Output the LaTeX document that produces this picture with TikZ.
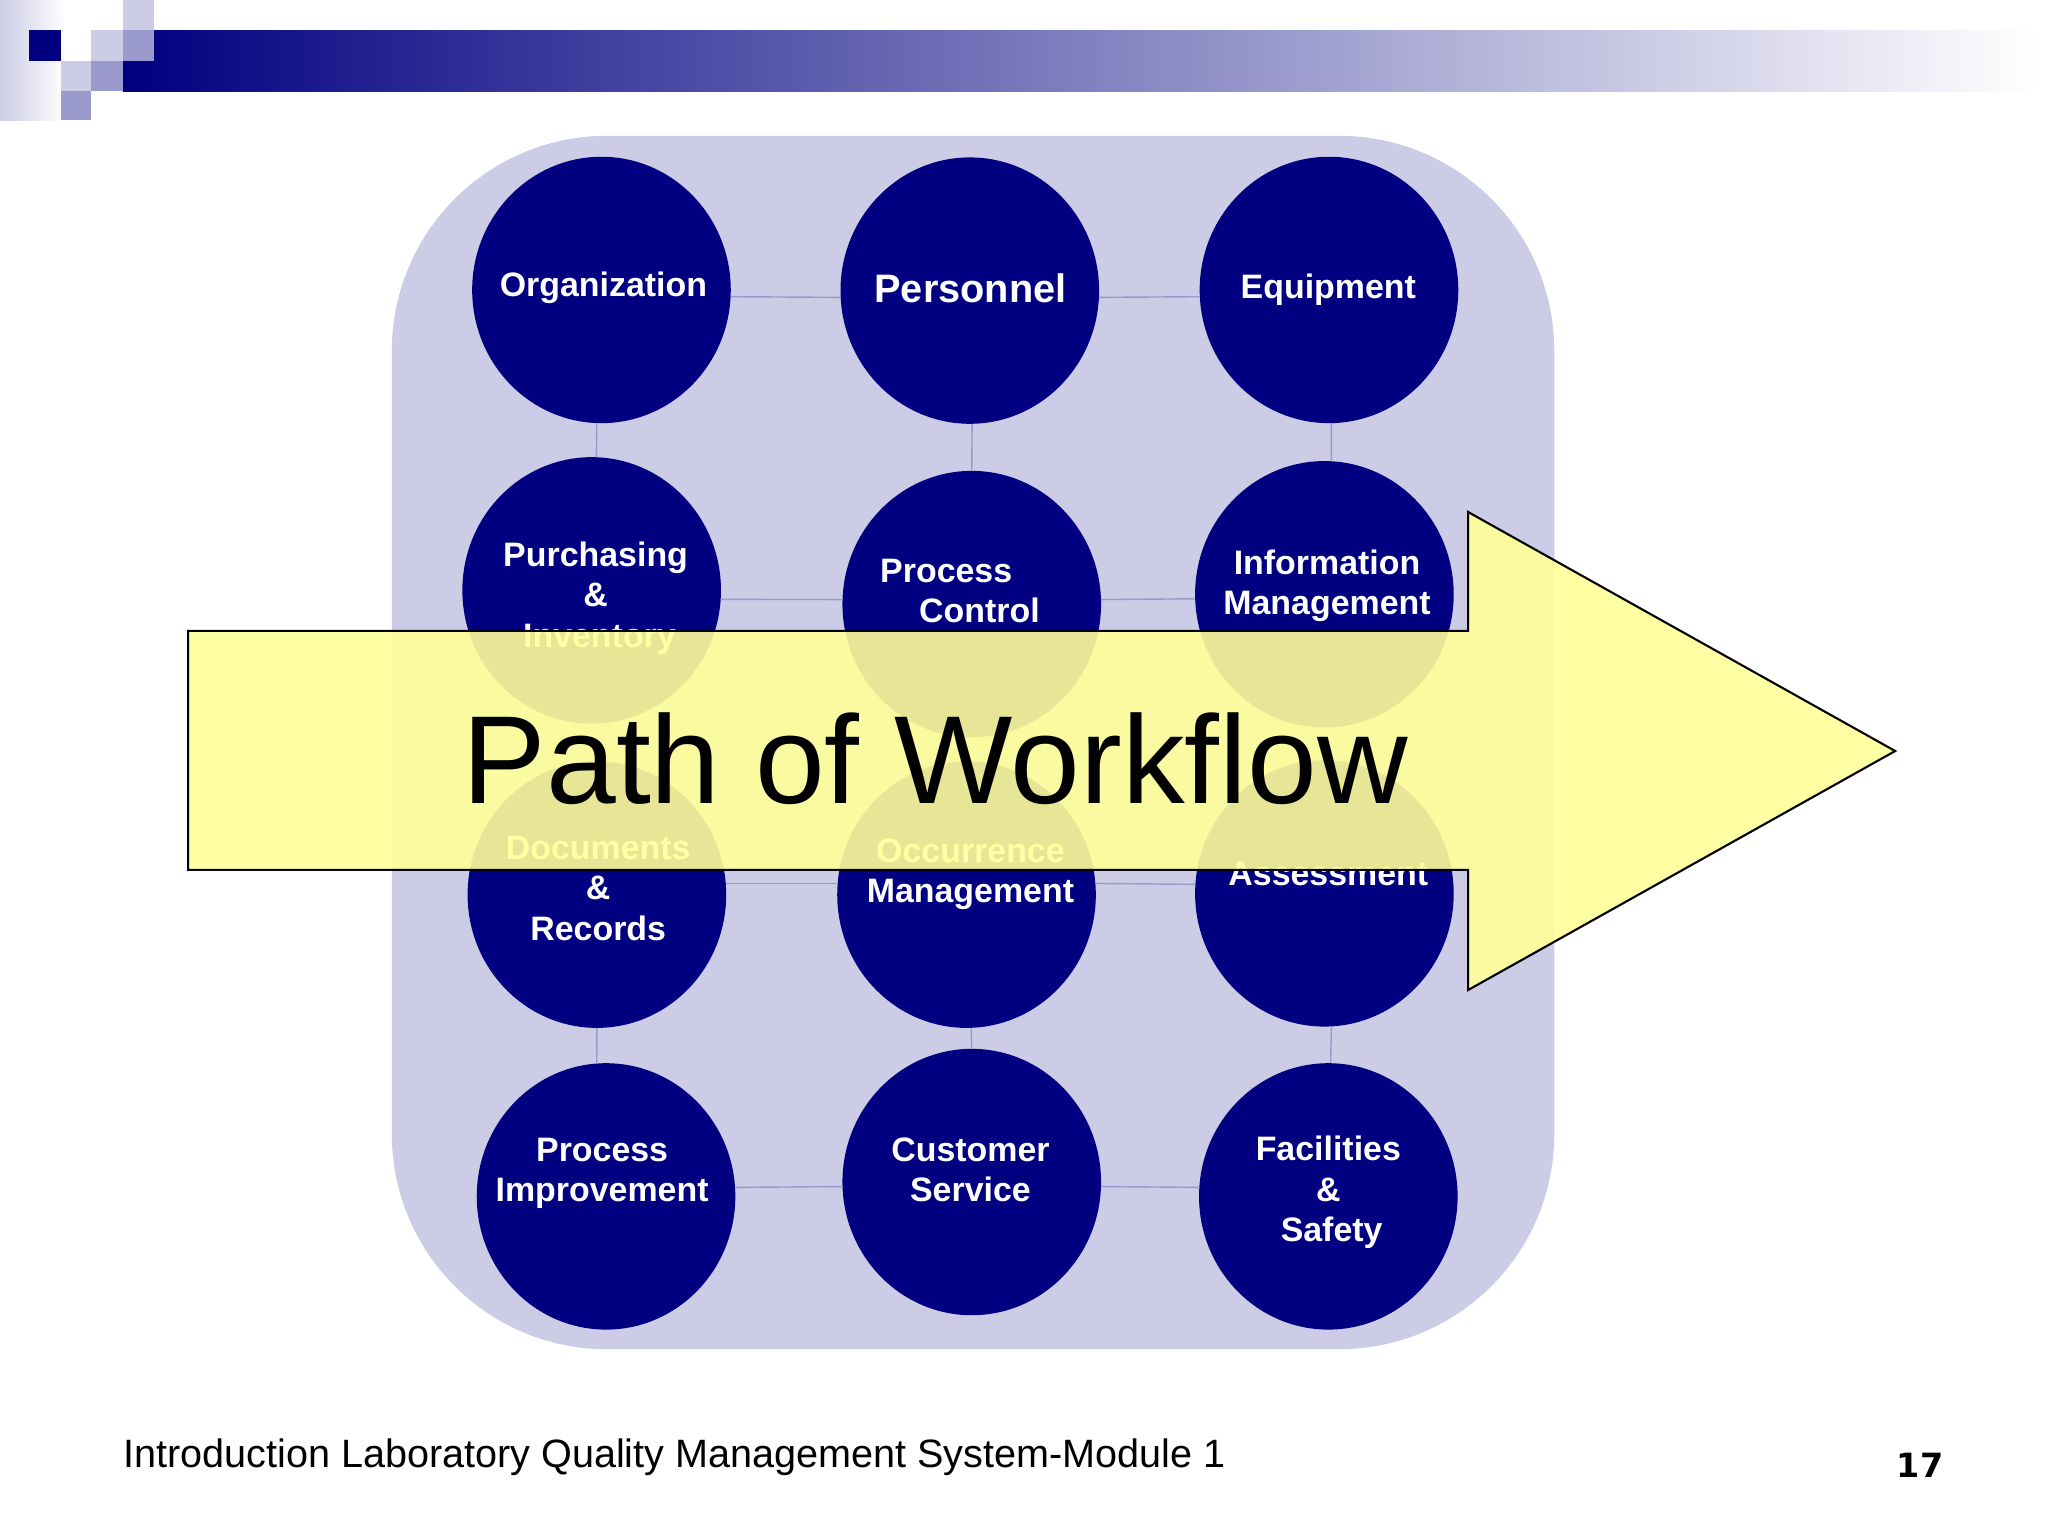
\documentclass[tikz,border=0pt]{standalone}
\usepackage{fontspec}
\setmainfont{Liberation Sans}
\newfontfamily\pagefont{DejaVu Sans}
\usetikzlibrary{shapes.geometric}
\definecolor{navy}{HTML}{000080}
\definecolor{pale}{HTML}{CCCCE6}
\definecolor{mid}{HTML}{9999CC}
\definecolor{pathyellow}{HTML}{FFFF99}

\begin{document}
\begin{tikzpicture}[
x=0.01306cm,
y=-0.01306cm,
disc/.style={
  ellipse,
  fill=navy,
  inner sep=0pt,
  outer sep=0pt,
  minimum width=2.586cm,
  minimum height=2.664cm
  },
word/.style={
  text=white,
  align=center,
  inner sep=0pt,
  font=\bfseries\fontsize{9.65}{11.5}\selectfont
  },
link/.style={
  draw=mid,
  line width=0.4pt
  }
]
\useasboundingbox (0,0) rectangle (1568,1176);

\shade[left color=pale, right color=white] (0,0) rectangle (50,92);
\shade[left color=navy, right color=white, draw=none] (94,23) rectangle (1560,70);
\fill[white] (94,23) rectangle (118,47);
\fill[navy] (22,23) rectangle (47,47);
\fill[pale] (70,23) rectangle (94,47);
\fill[pale] (94,0) rectangle (118,23);
\fill[mid] (94,23) rectangle (118,47);
\fill[pale] (47,47) rectangle (70,70);
\fill[mid] (70,47) rectangle (94,70);
\fill[mid] (47,70) rectangle (70,92);

\fill[pale, rounded corners=2.15cm] (300,104) rectangle (1190,1033);

\foreach \nm/\cx/\cy in {org/460.5/222,per/742.5/222.5,equ/1017.5/222,
  pur/453/452,pro/744/462.5,inf/1014/455,
  doc/457/685,occ/740/685,ass/1014/684,
  imp/464/916,cus/744/905,fac/1017/916}
  \node[disc] (\nm) at (\cx,\cy) {};

\foreach \a/\b in {org.357/per.183,per.357/equ.183,
  pur.356/pro.178,pro.2/inf.182,
  doc.5/occ.175,occ.5/ass.176,
  imp.4/cus.182,cus.358/fac.176,
  org.268/pur.88,per.271/pro.90,equ.271/inf.87,
  doc.270/imp.94,occ.272/cus.90,ass.273/fac.89}
  \draw[link] (\a) -- (\b);

\foreach \nm/\cx/\cy/\txt in {orgt/462/220.5/Organization,
  equt/1017/221.5/Equipment,
  purt/456/458/{Purchasing\\\&\\\hspace*{2.2pt}Inventory},
  inft/1016/448.5/{Information\\Management},
  doct/458/680/{Documents\\\&\hspace*{1.5pt}\\Records},
  occt/743/669.5/{Occurrence\\Management},
  asst/1017/669/Assessment,
  impt/461/898.5/{Process\\Improvement},
  cust/743/895.5/{Customer\\Service},
  fact/1017/913/{Facilities\\\&\\\hspace*{1.9pt}Safety}}
  \node[word] (\nm) at (\cx,\cy) {\txt};
\node[word, font=\bfseries\fontsize{11.3}{13}\selectfont] (pert) at (743,221) {Personnel};
\node[word, align=left] (prot) at (735,452.5) {Process\\\hspace*{11.1pt}Control};

\draw[fill=pathyellow, fill opacity=0.9, line width=0.6pt, line join=miter]
  (144,483) -- (1124,483) -- (1124,392) -- (1451,575) -- (1124,758) -- (1124,666) -- (144,666) -- cycle;
\node[inner sep=0pt, font=\fontsize{35.65}{40}\selectfont] (pathlabel) at (716,581) {Path of Workflow};

\node[inner sep=0pt, anchor=west, font=\fontsize{11.26}{14}\selectfont] (footer) at (94,1116) {Introduction Laboratory Quality Management System-Module 1};
\node[inner sep=0pt, font=\pagefont\bfseries\fontsize{9.5}{12}\selectfont] (pagenum) at (1470,1122) {17};
\end{tikzpicture}
\end{document}
